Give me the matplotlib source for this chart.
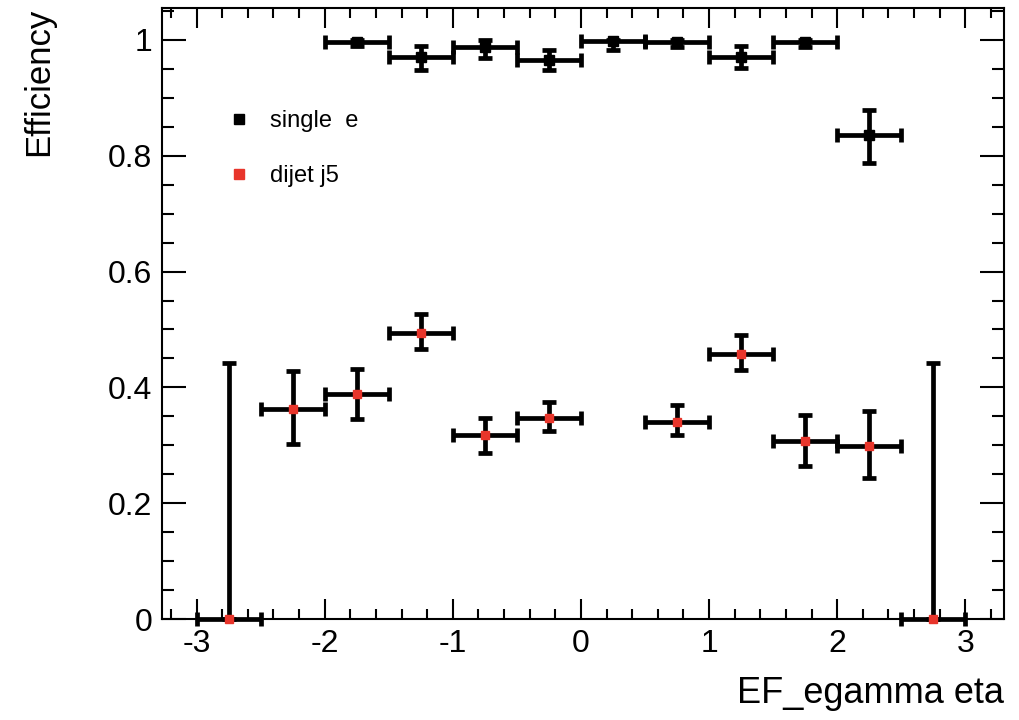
import matplotlib.pyplot as plt
from matplotlib.lines import Line2D
from matplotlib.ticker import MultipleLocator

plt.rcParams['font.family'] = ['Liberation Sans', 'DejaVu Sans']
plt.rcParams['axes.unicode_minus'] = False

bin_half = 0.25

# single e efficiency per eta bin
single_x = [-1.75, -1.25, -0.75, -0.25, 0.25, 0.75, 1.25, 1.75, 2.25]
single_y = [0.997, 0.970, 0.987, 0.965, 0.998, 0.997, 0.971, 0.997, 0.836]
single_lo = [0.008, 0.022, 0.018, 0.018, 0.015, 0.009, 0.019, 0.009, 0.048]
single_hi = [0.003, 0.019, 0.012, 0.017, 0.002, 0.003, 0.018, 0.003, 0.043]

# dijet j5 efficiency per eta bin
dijet_x = [-2.75, -2.25, -1.75, -1.25, -0.75, -0.25, 0.75, 1.25, 1.75, 2.25, 2.75]
dijet_y = [0.0, 0.362, 0.388, 0.494, 0.318, 0.348, 0.341, 0.458, 0.307, 0.299, 0.0]
dijet_lo = [0.0, 0.059, 0.042, 0.027, 0.031, 0.024, 0.023, 0.028, 0.042, 0.055, 0.0]
dijet_hi = [0.442, 0.066, 0.043, 0.032, 0.030, 0.026, 0.028, 0.033, 0.045, 0.060, 0.442]

red = '#e8352b'

fig = plt.figure(figsize=(10.19, 7.2), dpi=100)
ax = fig.add_axes([0.159, 0.14, 0.826, 0.849])

eb = dict(fmt='none', ecolor='black', elinewidth=3.4, capsize=5, capthick=3.4)
ax.errorbar(dijet_x, dijet_y, xerr=bin_half, yerr=[dijet_lo, dijet_hi], zorder=3, clip_on=False, **eb)
ax.plot(dijet_x, dijet_y, 's', color=red, ms=6, mec=red, zorder=4, clip_on=False)

ax.errorbar(single_x, single_y, xerr=bin_half, yerr=[single_lo, single_hi], zorder=3, **eb)
ax.plot(single_x, single_y, 's', color='black', ms=6.5, zorder=4)

ax.set_xlim(-3.27, 3.3)
ax.set_ylim(0, 1.055)
ax.xaxis.set_major_locator(MultipleLocator(1))
ax.xaxis.set_minor_locator(MultipleLocator(0.2))
ax.yaxis.set_minor_locator(MultipleLocator(0.05))
ax.set_yticks([0, 0.2, 0.4, 0.6, 0.8, 1.0])
ax.set_yticklabels(['0', '0.2', '0.4', '0.6', '0.8', '1'])

ax.tick_params(which='both', direction='in', top=True, right=True, width=1.5, labelsize=23)
ax.tick_params(axis='x', which='major', length=14.5, pad=7)
ax.tick_params(axis='x', which='minor', length=7.2)
ax.tick_params(axis='y', which='major', length=17, pad=7)
ax.tick_params(axis='y', which='minor', length=8.6)
for s in ax.spines.values():
    s.set_linewidth(1.5)

ax.set_xlabel('EF_egamma eta', fontsize=26, loc='right', labelpad=12)
ax.set_ylabel('Efficiency', fontsize=25, loc='top', labelpad=38)

handles = [Line2D([], [], ls='none', marker='s', color='black', ms=7),
           Line2D([], [], ls='none', marker='s', color=red, ms=7)]
ax.legend(handles, ['single  e', 'dijet j5'], loc='upper left', bbox_to_anchor=(0.055, 0.868),
          frameon=False, fontsize=17, handlelength=0.8, handletextpad=0.9, labelspacing=1.4)

fig.savefig('out.png', dpi=100)
